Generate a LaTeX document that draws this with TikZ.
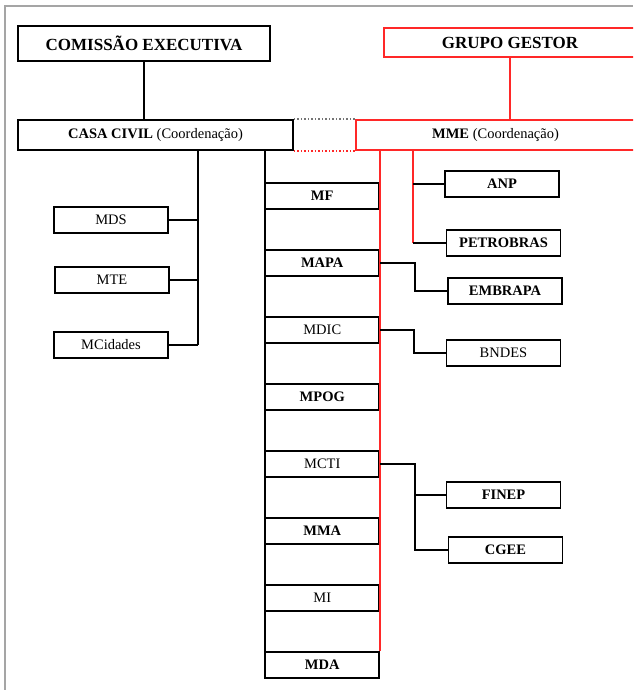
\documentclass[tikz,border=0pt]{standalone}
\usepackage{fontspec}
\setmainfont{Liberation Serif}
\usetikzlibrary{calc}

\definecolor{gestorred}{RGB}{255,40,40}
\definecolor{framegray}{RGB}{165,165,165}

\begin{document}
\begin{tikzpicture}[x=1pt,y=-1pt,line width=1.5pt]
	\tikzstyle{orgbox}=[draw,inner sep=0pt,minimum width=114pt,minimum height=26pt,font=\fontsize{14.5}{16}\selectfont]
	\tikzstyle{headbox}=[draw,inner sep=0pt,minimum height=30pt,font=\fontsize{14.5}{16}\selectfont]
	\tikzstyle{topbox}=[draw,inner sep=0pt,minimum width=252pt,font=\fontsize{17}{18}\selectfont\bfseries]
	\tikzstyle{gestor}=[draw=gestorred]

	\useasboundingbox (0,0) rectangle (633,690);
	\clip (0,0) rectangle (633,690);

	\draw [framegray, line width=1.4pt] (5,690) -- (5,6) -- (633,6);

	\node (comissao) [topbox, minimum height=35pt] at (144,43.5) {COMISSÃO EXECUTIVA};
	\node (grupo) [topbox, gestor, minimum height=29pt] at (510,42.5) {GRUPO GESTOR};

	\node (casa) [headbox, minimum width=275pt] at (155.5,135) {\textbf{CASA CIVIL} (Coordenação)};
	\node (mme) [headbox, gestor, minimum width=279pt] at (495.5,135) {\textbf{MME} (Coordenação)};

	\draw (comissao.south) -- (comissao.south |- casa.north);
	\draw [gestor] (grupo.south) -- (grupo.south |- mme.north);
	\draw [framegray!70!black, dotted] (casa.north east) -- (mme.north west);
	\draw [gestor, dotted] (casa.south east) -- (mme.south west);

	% ministerios ligados a casa civil
	\node (mds) [orgbox] at (111,220) {MDS};
	\node (mte) [orgbox] at (112,280) {MTE};
	\node (mcidades) [orgbox] at (111,345) {MCidades};

	\coordinate (cbus) at (198,0);
	\draw (casa.south -| cbus) -- (mcidades.east -| cbus);
	\foreach \nm in {mds,mte,mcidades}
		\draw (\nm.east) -- (\nm.east -| cbus);

	% coluna central
	\foreach \nm/\txt [count=\i] in {mf/\textbf{MF}, mapa/\textbf{MAPA}, mdic/MDIC, mpog/\textbf{MPOG}, mcti/MCTI, mma/\textbf{MMA}, mi/MI, mda/\textbf{MDA}}
		\node (\nm) [orgbox, minimum width=113.5pt] at (322.25,129+67*\i) {\txt};

	\draw (casa.south -| mf.west) -- (mda.south west);
	\draw [gestor] (mme.south -| mf.east) -- (mda.north east);

	% vinculadas
	\node (anp) [orgbox] at (502,184) {\textbf{ANP}};
	\node (petrobras) [orgbox] at (503.5,243) {\textbf{PETROBRAS}};
	\node (embrapa) [orgbox] at (505,291) {\textbf{EMBRAPA}};
	\node (bndes) [orgbox] at (503.5,353) {BNDES};
	\node (finep) [orgbox] at (503.5,495) {\textbf{FINEP}};
	\node (cgee) [orgbox] at (505.5,550) {\textbf{CGEE}};

	\coordinate (mbus) at (413,0);
	\draw [gestor] (mme.south -| mbus) -- (petrobras.west -| mbus);
	\draw (anp.west) -- (anp.west -| mbus);
	\draw (petrobras.west) -- (petrobras.west -| mbus);

	\draw (mapa.east) -- ++(35,0) |- (embrapa.west);
	\draw (mdic.east) -- ++(34,0) |- (bndes.west);
	\draw (mcti.east) -- ++(35,0) coordinate (tbus) |- (cgee.west);
	\draw (finep.west) -- (finep.west -| tbus);
\end{tikzpicture}
\end{document}
